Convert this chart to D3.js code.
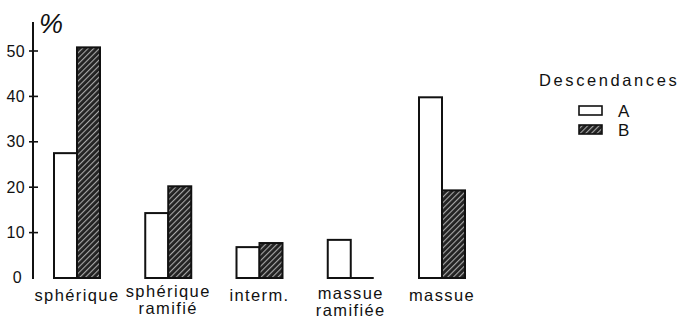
<!DOCTYPE html>
<html><head><meta charset="utf-8">
<script src="https://cdn.jsdelivr.net/npm/d3@7"></script>
<style>
body{margin:0;background:#fff;}
text{font-family:"Liberation Sans",Arial,sans-serif;fill:#111;}
</style></head>
<body><svg id="c" width="681" height="325"></svg>
<script>
const categories = [["sphérique"],["sphérique","ramifié"],["interm."],["massue","ramifiée"],["massue"]];
const seriesA = [27.5, 14.3, 6.8, 8.4, 39.8];
const seriesB = [50.8, 20.2, 7.7, 0, 19.3];
const seriesNames = ["A","B"];
const yTicks = [0,10,20,30,40,50];
const legendTitle = "Descendances";
const yLabel = "%";

const svg = d3.select("#c");
const defs = svg.append("defs");
const pat = defs.append("pattern").attr("id","hatch").attr("patternUnits","userSpaceOnUse")
  .attr("width",4).attr("height",4).attr("patternTransform","rotate(45)");
pat.append("rect").attr("width",4).attr("height",4).attr("fill","#222");
pat.append("rect").attr("x",0).attr("width",1.1).attr("height",4).attr("fill","#a8a8a8");

const y = d3.scaleLinear().domain([0,50]).range([278,51]);
const x = d3.scalePoint().domain(d3.range(categories.length)).range([77,442]);
const bw = 23;
const axisX = 33;

const g = svg.append("g");
g.append("line").attr("x1",axisX).attr("x2",axisX).attr("y1",22).attr("y2",279).attr("stroke","#111").attr("stroke-width",2);
yTicks.forEach(t=>{
  if(t>0) g.append("line").attr("x1",axisX-4).attr("x2",axisX+5).attr("y1",y(t)).attr("y2",y(t)).attr("stroke","#111").attr("stroke-width",1.6);
  g.append("text").attr("x",t===0?22:25).attr("y",y(t)+(t===0?-1:0)).attr("text-anchor","end").attr("dominant-baseline","central")
   .attr("font-size",16).attr("letter-spacing",0.3).text(t);
});
g.append("text").attr("x",39).attr("y",33).attr("font-size",27).attr("font-style","italic").text(yLabel);

categories.forEach((cat,i)=>{
  const cx = x(i);
  svg.append("rect").attr("x",cx-bw).attr("y",y(seriesA[i])).attr("width",bw).attr("height",y(0)-y(seriesA[i]))
    .attr("fill","#fff").attr("stroke","#111").attr("stroke-width",2);
  if(seriesB[i]>0){
    svg.append("rect").attr("x",cx).attr("y",y(seriesB[i])).attr("width",bw).attr("height",y(0)-y(seriesB[i]))
      .attr("fill","url(#hatch)").attr("stroke","#111").attr("stroke-width",2);
  } else {
    svg.append("line").attr("x1",cx).attr("x2",cx+bw).attr("y1",y(0)).attr("y2",y(0)).attr("stroke","#111").attr("stroke-width",2);
  }
  const baseY = cat.length>1 ? (i===1?297:299) : 301;
  cat.forEach((line,k)=>{
    svg.append("text").attr("x",cx).attr("y",baseY+k*17).attr("text-anchor","middle")
      .attr("font-size",16.5).attr("letter-spacing",1.4).text(line);
  });
});

const lg = svg.append("g");
lg.append("text").attr("x",539).attr("y",86).attr("font-size",16.5).attr("letter-spacing",2.6).text(legendTitle);
seriesNames.forEach((n,i)=>{
  const yy = 106 + i*19;
  lg.append("rect").attr("x",579).attr("y",yy).attr("width",23).attr("height",9)
    .attr("fill",i===0?"#fff":"url(#hatch)").attr("stroke","#111").attr("stroke-width",1.6);
  lg.append("text").attr("x",618).attr("y",yy+11).attr("font-size",17).text(n);
});
</script></body></html>
